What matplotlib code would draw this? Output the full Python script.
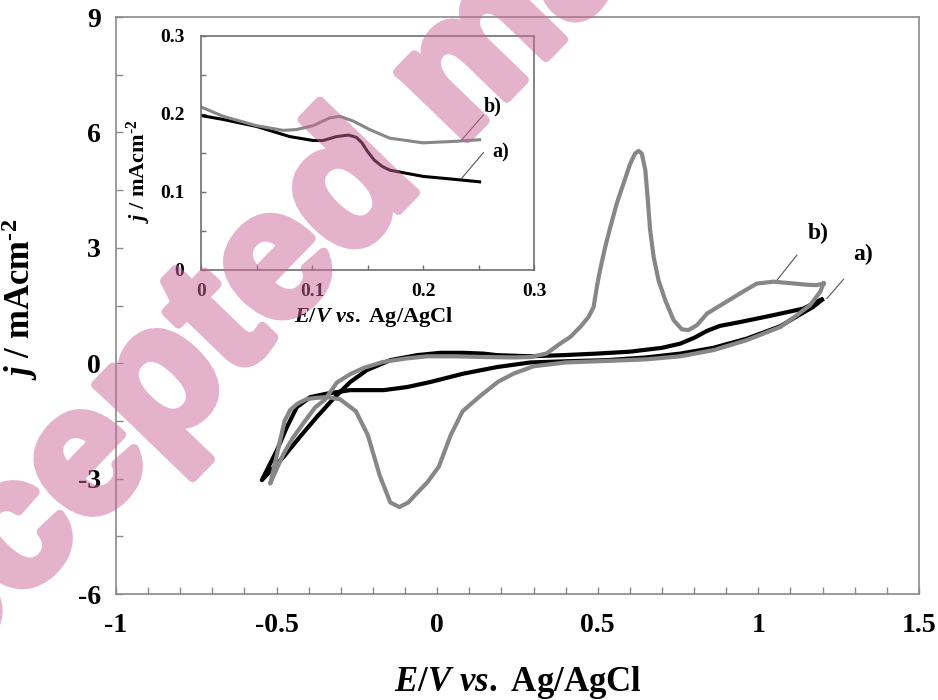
import matplotlib
matplotlib.use("Agg")
import matplotlib.pyplot as plt
import matplotlib.patheffects as pe
from matplotlib.ticker import FixedLocator, FixedFormatter, MultipleLocator

plt.rcParams['font.family'] = ['Liberation Serif', 'DejaVu Serif']
plt.rcParams['font.weight'] = 'bold'
plt.rcParams['mathtext.fontset'] = 'custom'
plt.rcParams['mathtext.rm'] = 'Liberation Serif:bold'
plt.rcParams['mathtext.bf'] = 'Liberation Serif:bold'
plt.rcParams['mathtext.it'] = 'Liberation Serif:italic:bold'

# ---------------- data: main CV ----------------
# curve a) black : cathodic branch (from +1.2 V to -0.55 V) then anodic branch
a_cath_x = [1.203, 1.17, 1.12, 1.068, 0.964, 0.86, 0.757, 0.65, 0.53, 0.40, 0.29, 0.186, 0.082,
            -0.022, -0.094, -0.167, -0.271, -0.343, -0.395, -0.437, -0.468, -0.499, -0.546]
a_cath_y = [1.68, 1.46, 1.22, 0.96, 0.64, 0.40, 0.25, 0.15, 0.08, 0.05, 0.02, -0.10, -0.27,
            -0.49, -0.62, -0.70, -0.70, -0.79, -0.88, -1.14, -1.66, -2.26, -3.04]
a_anod_x = [-0.546, -0.478, -0.427, -0.375, -0.323, -0.271, -0.219, -0.146, -0.063, 0.009, 0.082,
            0.144, 0.186, 0.29, 0.393, 0.497, 0.60, 0.70, 0.757, 0.80, 0.84, 0.88, 0.943, 1.047,
            1.14, 1.192, 1.203]
a_anod_y = [-3.04, -2.43, -1.91, -1.40, -0.92, -0.49, -0.18, 0.08, 0.21, 0.27, 0.27,
            0.25, 0.21, 0.18, 0.21, 0.25, 0.30, 0.40, 0.51, 0.66, 0.84, 0.97, 1.07, 1.25,
            1.42, 1.64, 1.68]

# curve b) gray
b_cath_x = [1.203, 1.192, 1.161, 1.12, 1.068, 0.964, 0.86, 0.757, 0.65, 0.53, 0.40, 0.30, 0.238,
            0.19, 0.134, 0.079, 0.042, 0.005, -0.031, -0.06, -0.09, -0.118, -0.146, -0.179,
            -0.216, -0.253, -0.302, -0.343, -0.375, -0.406, -0.435, -0.458, -0.475, -0.489,
            -0.505, -0.52]
b_cath_y = [2.07, 1.85, 1.51, 1.25, 0.94, 0.60, 0.34, 0.18, 0.10, 0.06, 0.02, -0.08, -0.27,
            -0.48, -0.85, -1.25, -1.87, -2.69, -3.10, -3.35, -3.62, -3.74, -3.62, -2.92,
            -1.87, -1.25, -0.94, -0.88, -0.90, -0.93, -1.05, -1.22, -1.5, -2.0,
            -2.6, -3.13]
b_anod_x = [-0.52, -0.50, -0.478, -0.45, -0.416, -0.38, -0.35, -0.312, -0.27, -0.228, -0.17,
            -0.10, -0.03, 0.05, 0.15, 0.24, 0.29, 0.34, 0.383, 0.414, 0.445, 0.471, 0.487,
            0.497, 0.507, 0.523, 0.539, 0.559, 0.580, 0.601, 0.616, 0.627, 0.637, 0.648,
            0.655, 0.663, 0.674, 0.689, 0.710, 0.736, 0.762, 0.782, 0.809, 0.840, 0.891,
            0.950, 0.995, 1.047, 1.10, 1.151, 1.18, 1.203]
b_anod_y = [-3.13, -2.75, -2.35, -1.95, -1.55, -1.15, -0.95, -0.50, -0.28, -0.12, 0.03,
            0.12, 0.18, 0.18, 0.16, 0.15, 0.16, 0.25, 0.51, 0.68, 0.94, 1.20, 1.46,
            1.98, 2.42, 3.02, 3.54, 4.15, 4.67, 5.19, 5.45, 5.52, 5.45, 5.02,
            4.32, 3.46, 2.76, 2.16, 1.64, 1.12, 0.88, 0.86, 0.99, 1.29, 1.55,
            1.85, 2.07, 2.12, 2.08, 2.04, 2.03, 2.07]

# ---------------- data: inset ----------------
ins_a_x = [0, 0.02, 0.05, 0.08, 0.101, 0.110, 0.122, 0.133, 0.140, 0.145, 0.150, 0.156, 0.163,
           0.170, 0.185, 0.200, 0.230, 0.251]
ins_a_y = [0.198, 0.193, 0.184, 0.171, 0.166, 0.166, 0.171, 0.173, 0.170, 0.163, 0.152, 0.141,
           0.133, 0.128, 0.124, 0.120, 0.116, 0.113]
ins_b_x = [0, 0.02, 0.05, 0.074, 0.086, 0.101, 0.116, 0.125, 0.137, 0.152, 0.170, 0.200, 0.230, 0.251]
ins_b_y = [0.209, 0.197, 0.185, 0.179, 0.180, 0.185, 0.195, 0.197, 0.191, 0.180, 0.169, 0.163, 0.165, 0.167]

main_xticks = [-1, -0.5, 0, 0.5, 1, 1.5]
main_xlabels = ['-1', '-0.5', '0', '0.5', '1', '1.5']
main_yticks = [-6, -3, 0, 3, 6, 9]
main_ylabels = ['-6', '-3', '0', '3', '6', '9']
ins_ticks = [0, 0.1, 0.2, 0.3]
ins_labels = ['0', '0.1', '0.2', '0.3']

GRAY = '#878787'
SPINE = '#8a8a8a'

fig = plt.figure(figsize=(9.38, 7.0), dpi=100)
ax = fig.add_axes([0.1237, 0.1514, 0.856, 0.8243])

ax.plot(a_cath_x + a_anod_x, a_cath_y + a_anod_y, color='black', lw=3.0,
        solid_joinstyle='round', solid_capstyle='butt', zorder=2)
ax.plot(b_cath_x + b_anod_x, b_cath_y + b_anod_y, color=GRAY, lw=3.0,
        solid_joinstyle='round', zorder=3)

ax.set_xlim(-1, 1.5)
ax.set_ylim(-6, 9)
ax.xaxis.set_major_locator(FixedLocator(main_xticks))
ax.xaxis.set_major_formatter(FixedFormatter(main_xlabels))
ax.xaxis.set_minor_locator(MultipleLocator(0.1))
ax.yaxis.set_major_locator(FixedLocator(main_yticks))
ax.yaxis.set_major_formatter(FixedFormatter(main_ylabels))
ax.yaxis.set_minor_locator(MultipleLocator(1.5))
for s in ax.spines.values():
    s.set_color(SPINE)
    s.set_linewidth(1.2)
ax.tick_params(which='both', direction='in', color=SPINE, width=1.0, length=5)
ax.tick_params(axis='x', which='major', pad=14, labelsize=20)
ax.tick_params(axis='y', which='major', pad=11, labelsize=20)
for lab in ax.get_xticklabels() + ax.get_yticklabels():
    lab.set_fontweight('bold')

ax.set_xlabel(r'$E/V\ vs.$ Ag/AgCl', fontsize=25, fontweight='bold')
ax.xaxis.set_label_coords(0.5, -0.121)
ax.set_ylabel('$j$ / mAcm$^{\u20102}$', fontsize=25, fontweight='bold')
ax.yaxis.set_label_coords(-0.095, 0.51)

# annotations main
ax.plot([1.058, 1.12], [2.16, 2.81], color='#555555', lw=0.8)
ax.plot([1.213, 1.265], [1.68, 2.18], color='#555555', lw=0.8)
ax.text(1.185, 3.38, 'b)', fontsize=17, fontweight='bold', ha='center', va='center')
ax.text(1.326, 2.83, 'a)', fontsize=17, fontweight='bold', ha='center', va='center')

# ---------------- inset ----------------
ins = fig.add_axes([0.2143, 0.6143, 0.355, 0.3343])
ins.plot(ins_a_x, ins_a_y, color='black', lw=2.2, solid_joinstyle='round')
ins.plot(ins_b_x, ins_b_y, color=GRAY, lw=2.2, solid_joinstyle='round')
ins.set_xlim(0, 0.3)
ins.set_ylim(0, 0.3)
ins.xaxis.set_major_locator(FixedLocator(ins_ticks))
ins.xaxis.set_major_formatter(FixedFormatter(ins_labels))
ins.xaxis.set_minor_locator(MultipleLocator(0.05))
ins.yaxis.set_major_locator(FixedLocator(ins_ticks))
ins.yaxis.set_major_formatter(FixedFormatter(ins_labels))
ins.yaxis.set_minor_locator(MultipleLocator(0.05))
for s in ins.spines.values():
    s.set_color('#6e6e6e')
    s.set_linewidth(1.2)
ins.tick_params(which='both', direction='in', color='#6e6e6e', width=1.0, length=3.6)
ins.tick_params(axis='x', which='major', pad=9.5, labelsize=14)
ins.tick_params(axis='y', which='major', pad=12, labelsize=14)
for lab in ins.get_xticklabels() + ins.get_yticklabels():
    lab.set_fontweight('bold')
ins.set_xlabel(r'$E/V\ vs.$ Ag/AgCl', fontsize=16, fontweight='bold')
ins.xaxis.set_label_coords(0.52, -0.150)
ins.set_ylabel('$j$ / mAcm$^{\u20102}$', fontsize=16, fontweight='bold')
ins.yaxis.set_label_coords(-0.144, 0.423)

ins.plot([0.2348, 0.2544], [0.1667, 0.1987], color='#555555', lw=0.8)
ins.plot([0.2348, 0.2544], [0.1175, 0.1504], color='#555555', lw=0.8)
ins.text(0.2626, 0.210, 'b)', fontsize=14.5, fontweight='bold', ha='center', va='center')
ins.text(0.270, 0.151, 'a)', fontsize=14.5, fontweight='bold', ha='center', va='center')


# watermark (solid heavy text, made half-transparent as a whole)
def half_alpha(img, dpi):
    out = img.copy()
    out[..., 3] = out[..., 3] * 0.5
    return out, 0, 0


wm = fig.text(-0.155, -0.1045, 'Accepted manuscript', rotation=46, rotation_mode='anchor',
              ha='left', va='baseline', fontsize=131, fontweight='bold',
              family=['Liberation Sans', 'DejaVu Sans'], color='#cc6699', zorder=10)
wm.set_path_effects([pe.withStroke(linewidth=7, foreground='#cc6699')])
wm.set_agg_filter(half_alpha)

fig.savefig('out.png', dpi=100)
